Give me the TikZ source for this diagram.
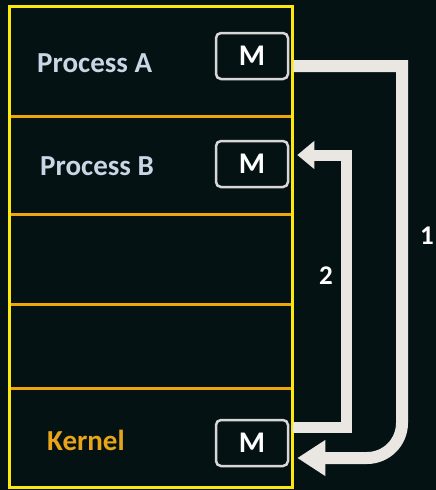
\documentclass[tikz,border=0pt]{standalone}
\usepackage{fontspec}
\setmainfont{Carlito}
\usetikzlibrary{arrows.meta,calc}

\definecolor{bgdark}{RGB}{5,18,20}
\definecolor{frameyellow}{RGB}{252,232,16}
\definecolor{slotorange}{RGB}{240,165,10}
\definecolor{proctext}{RGB}{200,214,230}
\definecolor{kerntext}{RGB}{232,165,25}
\definecolor{boxgray}{RGB}{215,215,215}
\definecolor{bandgray}{RGB}{234,230,225}

\begin{document}
\begin{tikzpicture}[x=1pt,y=1pt,yscale=-1,xscale=1,
    mbox/.style={draw=boxgray,line width=2.5pt,rounded corners=5pt,minimum width=72pt,minimum height=46pt,inner sep=0pt,text=white,font=\fontsize{30}{30}\selectfont\bfseries},
    proc/.style={inner sep=0pt,text=proctext,font=\fontsize{29}{30}\selectfont\bfseries},
    band/.style={draw=bandgray,line width=12pt,line join=miter},
    bigtip/.style={-{Triangle[width=34pt,length=28pt]}},
    smalltip/.style={-{Triangle[width=27pt,length=17pt]}},
    numlabel/.style={inner sep=0pt,text=white,font=\fontsize{27}{27}\selectfont\bfseries}]

        %Background
        \fill[bgdark] (0,0) rectangle (436,490);
        \useasboundingbox (0,0) rectangle (436,490);

        %Straight Lines (slots)
        \foreach \y in {116,214,304,388}
          \draw[slotorange,line width=3pt] (9,\y) -- (292,\y);
        %Shape: Rectangle (memory frame)
        \draw[frameyellow,line width=3pt] (9,6) rectangle (292,487);

        % Text Node
        \node[proc,anchor=base west] (pA) at (37,72) {Process A};
        % Text Node
        \node[proc,anchor=base west] (pB) at (40,175) {Process B};
        % Text Node
        \node[proc,anchor=base west,text=kerntext] (kern) at (47,450) {Kernel};

        %Shape: Rounded Rect
        \node[mbox] (mA) at (252,56) {M};
        \node[mbox] (mB) at (252,164) {M};
        \node[mbox] (mK) at (252,443) {M};

        %Connectors
        \coordinate (c1) at (402,66);
        \coordinate (c2) at (402,423);
        \coordinate (c3) at (346,155);
        \draw[band,bigtip] ([shift={(4,10)}]mA.east) -- (c1) -- (c2)
          arc[start angle=0,end angle=90,radius=35] -- ([shift={(8,15)}]mK.east);
        \draw[band,smalltip,line width=11pt] ([shift={(4,-16)}]mK.east) -| (c3) -- ([shift={(8,-9)}]mB.east);

        % Text Node
        \node[numlabel] (n1) at (427,236) {1};
        % Text Node
        \node[numlabel] (n2) at (326,276) {2};

\end{tikzpicture}
\end{document}
